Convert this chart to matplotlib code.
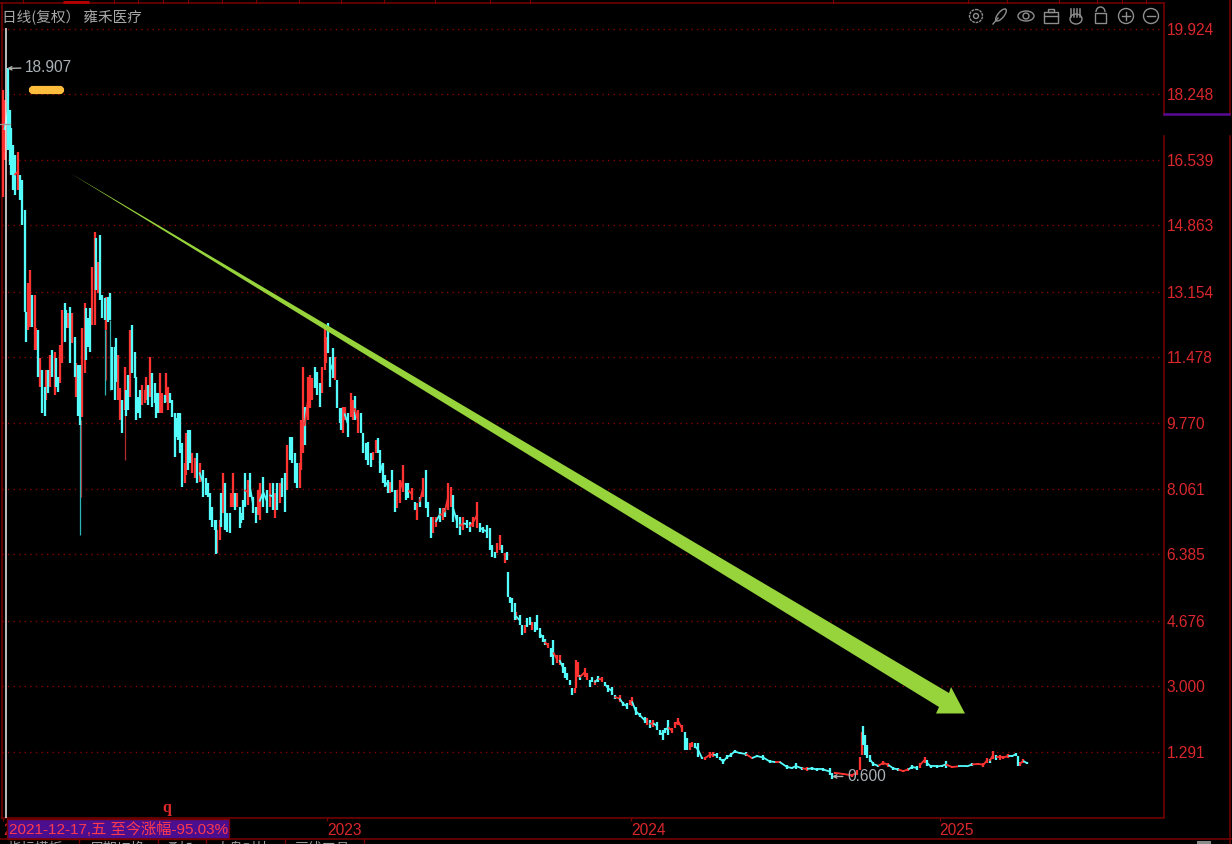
#!/usr/bin/env python3
# -*- coding: utf-8 -*-
import numpy as np
import matplotlib
matplotlib.use('Agg')
import matplotlib.pyplot as plt
from matplotlib.patches import Arc, Circle, Ellipse, FancyBboxPatch, Polygon, Rectangle

plt.rcParams['font.family'] = ['Liberation Sans', 'Noto Sans CJK SC', 'DejaVu Sans']

# trading days counted from the 2021-12-17 high
days = [-3, -2, 1, 2, 3, 5, 6, 9, 10, 12,
        14, 15, 17, 18, 20, 22, 23, 25, 26, 28,
        30, 31, 33, 34, 36, 38, 39, 41, 42, 44,
        46, 47, 49, 50, 52, 54, 55, 57, 58, 60,
        62, 63, 65, 66, 68, 70, 71, 73, 74, 76,
        78, 79, 81, 82, 84, 86, 87, 89, 90, 92,
        94, 95, 97, 98, 100, 102, 103, 105, 106, 108,
        110, 111, 113, 114, 116, 118, 119, 121, 122, 124,
        126, 127, 129, 130, 132, 134, 135, 137, 138, 140,
        142, 143, 145, 146, 148, 150, 152, 154, 157, 159,
        161, 162, 164, 166, 167, 168, 170, 171, 173, 174,
        176, 178, 179, 181, 182, 184, 186, 187, 189, 190,
        193, 194, 197, 199, 201, 202, 205, 208, 210, 213,
        214, 216, 218, 220, 222, 224, 226, 228, 230, 232,
        234, 235, 237, 238, 241, 242, 244, 246, 248, 250,
        252, 254, 255, 257, 258, 261, 262, 264, 266, 267,
        269, 270, 273, 275, 277, 278, 281, 283, 285, 287,
        289, 291, 293, 295, 297, 298, 301, 302, 305, 306,
        308, 310, 312, 314, 317, 319, 321, 324, 326, 328,
        330, 333, 335, 337, 339, 341, 343, 346, 349, 350,
        353, 355, 357, 360, 362, 365, 368, 370, 373, 376,
        378, 381, 384, 386, 388, 390, 392, 394, 396, 398,
        400, 401, 402, 404, 406, 407, 410, 412, 414, 416,
        418, 420, 422, 424, 426, 429, 430, 433, 435, 437,
        440, 442, 445, 446, 448, 450, 452, 454, 455, 457,
        458, 462, 464, 466, 468, 470, 473, 476, 478, 481,
        484, 486, 490, 493, 496, 498, 500, 503, 506, 510,
        512, 514, 517, 520, 522, 525, 526, 529, 532, 534,
        537, 540, 542, 544, 546, 548, 550, 553, 556, 558,
        562, 565, 568, 570, 573, 576, 579, 582, 586, 591,
        596, 600, 605, 610, 614, 618, 624, 628, 631, 636,
        640, 644, 648, 653, 658, 660, 662, 669, 676, 680,
        682, 684, 685, 686, 688, 690, 693, 697, 701, 705,
        709, 713, 717, 721, 724, 728, 730, 734, 736, 739,
        744, 748, 751, 756, 761, 768, 772, 777, 781, 784,
        786, 789, 791, 794, 797, 801, 804, 807, 809, 810,
        813, 816]

highs = [18.35, 18.09, 18.907, 17.84, 17.37, 16.93, 16.68, 16.75, 16.16, 16.03,
         15.26, 12.63, 13.38, 13.71, 13.07, 13.07, 12.22, 12.17, 11.44, 11.14,
         10.70, 11.14, 11.14, 11.52, 11.65, 11.60, 11.44, 10.95, 11.78, 12.68,
         12.86, 12.68, 12.60, 12.76, 12.60, 11.99, 11.32, 11.26, 11.26, 12.22,
         12.86, 12.73, 12.48, 12.73, 13.79, 14.69, 14.54, 13.92, 14.61, 13.07,
         12.99, 13.02, 13.02, 13.12, 11.73, 11.73, 11.96, 11.52, 10.67, 10.36,
         11.21, 10.62, 11.01, 12.17, 12.29, 11.60, 10.95, 10.44, 10.62, 10.75,
         10.62, 10.95, 10.75, 11.47, 11.06, 10.80, 10.54, 10.54, 11.06, 10.54,
         10.49, 11.06, 10.70, 10.54, 10.36, 10.03, 9.90, 10.03, 10.03, 9.25,
         8.74, 9.51, 9.59, 9.59, 8.99, 8.87, 8.99, 8.74, 8.56, 8.35,
         8.22, 7.97, 7.60, 7.27, 7.27, 7.01, 7.27, 7.97, 8.48, 8.22,
         7.45, 7.45, 7.97, 8.48, 7.97, 7.97, 7.60, 7.45, 7.79, 8.48,
         8.30, 8.48, 7.86, 7.60, 8.04, 8.22, 8.38, 8.04, 8.22, 8.22,
         7.97, 8.22, 8.22, 8.35, 8.48, 9.20, 9.41, 9.41, 8.99, 8.74,
         8.74, 9.85, 11.21, 10.18, 10.95, 11.01, 10.93, 11.21, 11.08, 10.80,
         11.21, 12.24, 11.99, 12.35, 11.47, 11.70, 11.47, 10.88, 10.16, 10.16,
         10.18, 10.18, 10.03, 10.54, 10.36, 10.46, 10.10, 10.03, 9.51, 9.25,
         9.28, 8.99, 9.02, 9.33, 9.38, 9.07, 8.74, 8.43, 8.30, 8.25,
         8.56, 8.04, 8.04, 8.30, 8.69, 8.22, 8.22, 8.09, 7.73, 7.71,
         7.86, 8.35, 8.56, 7.73, 7.35, 7.35, 7.35, 7.58, 7.58, 7.58,
         8.22, 8.12, 7.91, 7.40, 7.35, 7.35, 7.27, 7.22, 7.35, 7.73,
         7.19, 7.09, 7.14, 7.06, 6.63, 6.45, 6.68, 6.88, 6.63, 6.42,
         6.45, 5.93, 5.29, 5.26, 5.13, 4.90, 4.82, 4.56, 4.56, 4.74,
         4.77, 4.64, 4.64, 4.82, 4.49, 4.31, 4.20, 4.10, 3.97, 4.18,
         3.79, 3.79, 3.58, 3.48, 3.33, 3.15, 2.94, 2.94, 3.66, 3.61,
         3.28, 3.46, 3.33, 3.15, 3.22, 3.15, 3.25, 3.22, 3.10, 3.02,
         2.97, 2.76, 2.76, 2.58, 2.55, 2.63, 2.71, 2.45, 2.30, 2.19,
         2.17, 2.12, 2.12, 2.07, 1.86, 1.86, 1.91, 2.12, 1.91, 2.07,
         2.17, 1.99, 1.81, 1.65, 1.52, 1.55, 1.52, 1.52, 1.16, 1.16,
         1.29, 1.29, 1.27, 1.16, 1.11, 1.21, 1.27, 1.34, 1.29, 1.29,
         1.16, 1.21, 1.21, 1.09, 1.06, 1.06, 0.96, 0.91, 1.01, 0.91,
         0.91, 0.91, 0.88, 0.88, 0.88, 0.75, 0.78, 0.75, 0.73, 0.83,
         1.16, 1.81, 1.96, 1.73, 1.47, 1.21, 1.03, 0.96, 1.06, 1.01,
         0.91, 0.88, 0.83, 0.88, 0.96, 0.93, 1.01, 1.16, 1.09, 0.96,
         0.96, 0.96, 1.06, 0.93, 0.93, 0.93, 1.01, 1.01, 1.01, 1.14,
         1.11, 1.32, 1.21, 1.21, 1.19, 1.24, 1.21, 1.27, 1.19, 1.03,
         1.11, 1.03]

lows = [15.59, 16.55, 16.80, 16.42, 16.16, 15.77, 15.64, 15.77, 15.52, 14.87,
        12.63, 11.86, 12.17, 12.24, 12.24, 11.65, 11.65, 10.95, 10.70, 10.03,
        9.96, 10.36, 10.54, 10.70, 10.95, 10.49, 10.70, 10.57, 10.80, 11.31,
        11.86, 12.22, 12.22, 11.31, 11.83, 10.95, 10.44, 9.96, 9.72, 9.92,
        11.06, 11.39, 11.73, 11.60, 12.29, 12.29, 13.20, 13.12, 12.94, 12.48,
        12.42, 12.17, 12.37, 12.42, 10.62, 10.36, 10.83, 10.36, 9.85, 9.51,
        10.10, 9.96, 10.10, 10.44, 11.06, 10.93, 9.85, 10.03, 9.90, 10.23,
        10.28, 10.36, 10.23, 10.44, 10.18, 10.28, 9.90, 10.03, 10.03, 10.03,
        10.28, 10.31, 10.10, 10.28, 9.92, 8.89, 9.41, 9.33, 8.99, 8.12,
        8.22, 8.43, 8.56, 8.74, 8.48, 8.35, 8.22, 8.25, 7.86, 7.91,
        7.86, 7.27, 7.09, 7.01, 6.39, 6.42, 6.75, 7.09, 7.45, 7.01,
        6.96, 6.93, 7.60, 7.60, 7.53, 7.60, 7.06, 7.19, 7.27, 7.60,
        7.66, 7.86, 7.45, 7.19, 7.40, 7.27, 7.60, 7.45, 7.60, 7.53,
        7.32, 7.53, 7.71, 7.86, 7.48, 8.04, 8.82, 8.74, 8.22, 8.09,
        8.09, 8.56, 8.99, 9.20, 9.85, 10.16, 10.36, 10.67, 10.49, 10.18,
        10.54, 11.14, 11.32, 11.57, 10.70, 10.93, 10.88, 10.16, 9.77, 9.59,
        9.51, 9.85, 9.41, 9.92, 9.85, 9.85, 9.51, 9.51, 8.99, 8.82,
        8.69, 8.63, 8.82, 8.99, 8.99, 8.48, 8.22, 8.12, 7.97, 7.97,
        7.99, 7.48, 7.58, 7.71, 7.99, 7.79, 7.84, 7.79, 7.53, 7.27,
        7.60, 7.86, 7.58, 7.35, 6.81, 6.94, 7.09, 7.22, 7.27, 7.35,
        7.53, 7.60, 7.22, 7.06, 6.88, 7.01, 7.06, 6.96, 7.09, 7.06,
        6.96, 6.94, 6.81, 6.50, 6.32, 6.29, 6.42, 6.50, 6.42, 6.16,
        6.24, 5.29, 5.13, 4.90, 4.69, 4.69, 4.56, 4.31, 4.36, 4.51,
        4.56, 4.43, 4.38, 4.43, 4.23, 4.13, 4.05, 3.97, 3.74, 3.53,
        3.58, 3.53, 3.33, 3.20, 3.15, 3.02, 2.76, 2.81, 2.94, 3.22,
        3.15, 3.22, 3.15, 2.97, 3.10, 3.02, 3.10, 3.10, 3.00, 2.84,
        2.76, 2.66, 2.58, 2.48, 2.40, 2.50, 2.48, 2.24, 2.19, 2.04,
        1.99, 1.91, 1.94, 1.86, 1.73, 1.60, 1.78, 1.73, 1.78, 1.91,
        1.99, 1.81, 1.34, 1.34, 1.34, 1.42, 1.39, 1.16, 1.11, 1.09,
        1.14, 1.16, 1.14, 1.09, 0.98, 1.11, 1.16, 1.27, 1.24, 1.19,
        1.11, 1.16, 1.09, 1.01, 1.01, 1.01, 0.85, 0.85, 0.85, 0.83,
        0.80, 0.83, 0.80, 0.80, 0.70, 0.60, 0.73, 0.70, 0.65, 0.70,
        0.83, 1.21, 1.47, 1.21, 1.14, 1.03, 0.93, 0.91, 0.96, 0.91,
        0.83, 0.80, 0.77, 0.80, 0.85, 0.83, 0.88, 1.01, 0.93, 0.88,
        0.88, 0.91, 0.88, 0.88, 0.91, 0.91, 0.93, 0.96, 0.91, 1.01,
        1.01, 1.11, 1.09, 1.09, 1.11, 1.14, 1.16, 1.19, 0.93, 0.93,
        1.01, 0.98]

# u = up day (red), d = down day (cyan)
moves = ('uudddddudd' 'dduuduudud' 'dudududduu' 'ddudududdu'
         'uddduududd' 'duddddduud' 'uddudddddu' 'uududddduu'
         'duuddddddd' 'uudduududd' 'ddddduudud' 'dduududddd'
         'uddduuddud' 'ududdudddd' 'uuuduuuddd' 'uuuddduddd'
         'uuduududdd' 'dduudddddu' 'dduuuddudu' 'duddduudud'
         'uudddudduu' 'dddddduudu' 'ddddduddud' 'dudddddudd'
         'uuddddduuu' 'duuddududd' 'ddudduuddd' 'ududdddduu'
         'uudduudddu' 'uudddddddd' 'uddddudddd' 'uddddduuuu'
         'uudddddduu' 'dduudduudd' 'ddduudduuu' 'duduuudddu'
         'ud')

# long thin shadows
wick_days = [58, 59, 78, 79, 82, 94]
wick_highs = [11.26, 9.85, 12.42, 12.17, 12.42, 11.21]
wick_lows = [6.88, 7.86, 10.49, 10.88, 10.62, 8.82]
wick_moves = 'dududu'

price_ticks = [19.924, 18.248, 16.539, 14.863, 13.154, 11.478,
               9.770, 8.061, 6.385, 4.676, 3.000, 1.291]
price_labels = ['19.924', '18.248', '16.539', '14.863', '13.154', '11.478',
                '9.770', '8.061', '6.385', '4.676', '3.000', '1.291']
year_ticks = [-3.2, 256, 499, 746]
year_labels = ['2022', '2023', '2024', '2025']

title_text = '日线(复权） 雍禾医疗'
range_text = '2021-12-17,五 至今涨幅-95.03%'
high_text = '18.907'
low_text = '0.600'

W, H = 1232, 844
RED = '#ff3232'
CYAN = '#54fcfc'
DIM_RED = '#b52a2a'
DIM_CYAN = '#2fb4b4'
LINE = '#7a0000'
TICK_RED = '#d9272c'
GREY = '#8e8e8e'

days = np.array(days)
highs = np.array(highs)
lows = np.array(lows)
up = np.array([m == 'u' for m in moves])
wick_days = np.array(wick_days)
wick_highs = np.array(wick_highs)
wick_lows = np.array(wick_lows)
wick_up = np.array([m == 'u' for m in wick_moves])

fig = plt.figure(figsize=(W / 100, H / 100), dpi=100, facecolor='black')

# price panel, 1.25 px per trading day and 0.02577 per px
ax = fig.add_axes([2 / W, 1 - 818 / H, 1161 / W, 815 / H], facecolor='black')
ax.set_xlim(-4, 924.8)
ax.set_ylim(20.67 - 0.02577 * 818, 20.67 - 0.02577 * 3)
for s in ['top', 'right']:
    ax.spines[s].set_visible(False)
for s in ['left', 'bottom']:
    ax.spines[s].set_color(LINE)
    ax.spines[s].set_linewidth(1.1)

ax.yaxis.tick_right()
ax.set_yticks(price_ticks)
ax.set_yticklabels(price_labels)
ax.tick_params(axis='y', length=0, pad=2.5, labelsize=11.2, labelcolor=TICK_RED)
ax.grid(axis='y', color='#860000', linestyle=(0, (1, 3)), linewidth=1)
ax.set_axisbelow(True)

ax.set_xticks(year_ticks)
ax.set_xticklabels(year_labels, ha='left')
ax.tick_params(axis='x', length=2.5, width=1, color=LINE, pad=1,
               labelsize=11.2, labelcolor=TICK_RED)

ax.vlines(wick_days[wick_up], wick_lows[wick_up], wick_highs[wick_up],
          color=DIM_RED, linewidth=0.9, zorder=2)
ax.vlines(wick_days[~wick_up], wick_lows[~wick_up], wick_highs[~wick_up],
          color=DIM_CYAN, linewidth=0.9, zorder=2)

ax.vlines(days[up], lows[up], highs[up], color=RED, linewidth=1.65, zorder=3)
ax.vlines(days[~up], lows[~up], highs[~up], color=CYAN, linewidth=1.65, zorder=3)

# sparse stretch at the end: join the bars so it reads as one line
mids = (highs + lows) / 2
for i in range(1, len(days)):
    if days[i] - days[i - 1] >= 3:
        ax.plot(days[i - 1:i + 1], mids[i - 1:i + 1], color=RED if up[i] else CYAN,
                linewidth=1.3, solid_capstyle='butt', zorder=3)

ax.annotate(high_text, xy=(0, 18.907), xytext=(18, 1), textcoords='offset pixels',
            color='#aab2b8', fontsize=11.2, va='center', zorder=6,
            arrowprops=dict(arrowstyle='->', color='#b0b0b0', lw=1, shrinkA=1, shrinkB=0,
                            mutation_scale=6))
ax.annotate(low_text, xy=(660, 0.66), xytext=(15, 0), textcoords='offset pixels',
            color='#aab2b8', fontsize=11.2, va='center', zorder=6,
            arrowprops=dict(arrowstyle='->', color='#b0b0b0', lw=1, shrinkA=1, shrinkB=0,
                            mutation_scale=6))

# window chrome and drawings, in screen pixels
ov = fig.add_axes([0, 0, 1, 1], zorder=5)
ov.set_xlim(0, W)
ov.set_ylim(H, 0)
ov.axis('off')
ov.patch.set_visible(False)

ov.plot([0, 1164], [2.5, 2.5], color=LINE, lw=1.1)
for x in [23, 114, 138, 163, 188, 222, 256, 299, 341, 384, 435, 490, 530,
          833, 968, 1007, 1059, 1097, 1122, 1146]:
    ov.plot([x, x], [0, 2.5], color=LINE, lw=0.8)
ov.plot([63, 89], [1.5, 1.5], color='#b00000', lw=2.2, solid_capstyle='butt')

ov.plot([1163.5, 1163.5], [2.5, 115], color=LINE, lw=1.1)
ov.plot([1163.5, 1163.5], [136, 818], color=LINE, lw=1.1)
ov.plot([1230, 1230], [0, 115], color=LINE, lw=1.1)
ov.plot([1230, 1230], [136, 844], color=LINE, lw=1.1)
ov.plot([1163, 1230], [114, 114], color='#5a0a96', lw=1.8, solid_capstyle='butt')
ov.plot([0, 1232], [839, 839], color=LINE, lw=1.1)
for x in [79, 158, 206, 285, 364]:
    ov.plot([x, x], [839, 844], color=LINE, lw=1)
for x, t in [(8, '指标模板'), (90, '周期切换'), (165, '叠加'), (215, '大盘对比'), (295, '画线工具')]:
    ov.text(x, 842, t, color='#9a9a9a', fontsize=10, va='top', ha='left', clip_on=True)
ov.add_patch(Rectangle((1197, 841), 14, 3, color='#8a8a8a', lw=0))

ov.plot([6.3, 6.3], [28, 818], color='#f0f0f0', lw=1.1, solid_capstyle='butt')
ov.plot([0, 10], [124, 124], color='#9a9a9a', lw=0.9)

ov.add_patch(FancyBboxPatch((30, 87), 33, 6, boxstyle='round,pad=0,rounding_size=3',
                            mutation_aspect=1, facecolor='#ffbd3d', edgecolor='#ffbd3d', lw=1.6))

# green trend arrow
ov.add_patch(Polygon([(70, 173), (949, 693), (951, 687), (965, 713.5), (936, 713.5), (939, 707)],
                     closed=True, facecolor='#97d33a', edgecolor='none'))

ov.text(2, 17, title_text, color='#a8a8a8', fontsize=10.5, va='center', ha='left',
        family=['Noto Sans CJK SC', 'DejaVu Sans'])

ov.add_patch(Rectangle((7, 819), 222, 19.5, facecolor='#4a0e8f', edgecolor=LINE, lw=1))
ov.text(9, 829, range_text, color='#ff3a4e', fontsize=11, va='center', ha='left')
ov.text(167, 808, 'q', color='#e02a2a', fontsize=11.5, fontweight='bold', ha='center', va='center',
        family='Liberation Serif')

# toolbar icons
ic = dict(fill=False, edgecolor=GREY, lw=1)
ov.add_patch(Circle((976, 16), 6.5, linestyle=(0, (2, 0.6)), **ic))
ov.add_patch(Circle((976, 16), 2.5, **ic))
ov.add_patch(Ellipse((1001, 15), 6, 15, angle=40, **ic))
ov.plot([993, 998], [24, 18], color=GREY, lw=1)
ov.add_patch(Ellipse((1026, 16), 16, 10, **ic))
ov.add_patch(Circle((1026, 16), 3, **ic))
ov.add_patch(Rectangle((1044, 12), 14, 11, **ic))
ov.plot([1044, 1058], [16, 16], color=GREY, lw=1)
ov.add_patch(Rectangle((1048, 9), 6, 3, **ic))
for x in [1071, 1074, 1077, 1080]:
    ov.plot([x, x], [9, 17], color=GREY, lw=1.1)
ov.add_patch(Ellipse((1076, 19), 12, 10, **ic))
ov.add_patch(Rectangle((1095, 13), 11, 10, **ic))
ov.add_patch(Arc((1100.5, 12), 9, 10, theta1=180, theta2=360, edgecolor=GREY, lw=1))
ov.add_patch(Circle((1126, 16), 7.5, **ic))
ov.plot([1122, 1130], [16, 16], color=GREY, lw=1)
ov.plot([1126, 1126], [12, 20], color=GREY, lw=1)
ov.add_patch(Circle((1151, 16), 7.5, **ic))
ov.plot([1147, 1155], [16, 16], color=GREY, lw=1)

fig.savefig('out.png', dpi=100, facecolor='black')
